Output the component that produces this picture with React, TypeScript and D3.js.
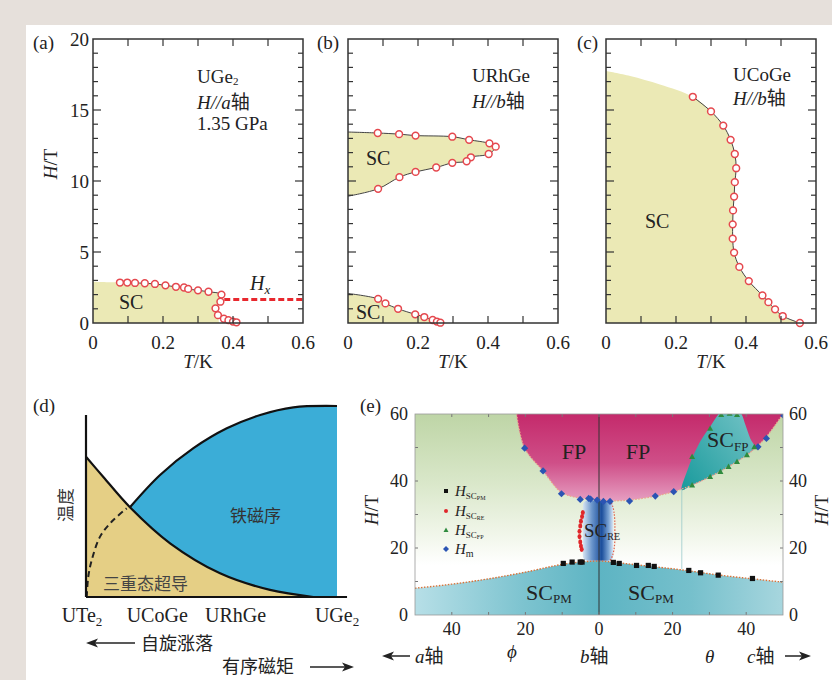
import React from 'react';
import * as d3 from 'd3';

const SERIF = '"Liberation Serif", "Times New Roman", serif';
const CJK = '"Noto Sans CJK SC", sans-serif';

// ---------- Panel (a) UGe2 ----------
const aT = [0.077, 0.098, 0.12, 0.148, 0.177, 0.207, 0.237, 0.26, 0.272, 0.3, 0.33, 0.367, 0.364, 0.35, 0.357, 0.374, 0.387, 0.4, 0.41];
const aH = [2.85, 2.85, 2.82, 2.8, 2.75, 2.65, 2.55, 2.5, 2.4, 2.3, 2.2, 2.0, 1.5, 1.03, 0.55, 0.3, 0.2, 0.1, 0.05];
const aFillStart = [[0, 2.9]];
const aFillEnd = [[0.36, 0]];
const aFillCount = 15;
const aHxT = [0.375, 0.6];
const aHxH = [1.66, 1.66];

// ---------- Panel (b) URhGe ----------
const bUpT = [0, 0.085, 0.146, 0.193, 0.298, 0.346, 0.404, 0.422, 0.402, 0.351, 0.339, 0.298, 0.252, 0.193, 0.147, 0.086, 0];
const bUpH = [13.45, 13.38, 13.3, 13.2, 13.12, 12.9, 12.65, 12.42, 11.9, 11.67, 11.39, 11.28, 10.95, 10.64, 10.27, 9.45, 8.93];
const bLoT = [0, 0.086, 0.107, 0.143, 0.192, 0.218, 0.242, 0.254, 0.264];
const bLoH = [2.08, 1.7, 1.38, 1.0, 0.61, 0.42, 0.21, 0.1, 0.02];

// ---------- Panel (c) UCoGe ----------
const cEdgeT = [0, 0.069, 0.154];
const cEdgeH = [17.75, 17.4, 16.8];
const cT = [0.248, 0.3, 0.335, 0.356, 0.368, 0.372, 0.368, 0.366, 0.363, 0.362, 0.362, 0.366, 0.381, 0.408, 0.447, 0.464, 0.483, 0.505, 0.554];
const cH = [15.93, 14.9, 13.9, 12.9, 11.9, 10.9, 9.92, 8.9, 7.93, 6.95, 5.94, 4.96, 3.95, 2.95, 1.94, 1.47, 0.96, 0.49, 0];

const tTicks = [0, 0.2, 0.4, 0.6];
const hTicks = [0, 5, 10, 15, 20];

// ---------- Panel (d) schematic ----------
const dTcX = [0, 0.07, 0.175, 0.335, 0.534, 0.733, 0.906];
const dTcY = [0.734, 0.627, 0.47, 0.281, 0.124, 0.037, 0];
const dFmX = [0.175, 0.295, 0.428, 0.561, 0.694, 0.826, 1.0];
const dFmY = [0.47, 0.639, 0.779, 0.883, 0.953, 0.993, 1.0];
const dDashX = [0.003, 0.009, 0.023, 0.056, 0.102, 0.162];
const dDashY = [0.0, 0.106, 0.194, 0.316, 0.394, 0.464];
const dCompounds = ['UTe', 'UCoGe', 'URhGe', 'UGe'];
const dCompoundPos = [-0.097, 0.162, 0.474, 0.912];
const dCompoundSub = ['2', '', '', '2'];

// ---------- Panel (e) URhGe angle diagram ----------
const eAngleTicks = [-40, -20, 0, 20, 40];
const eHTicks = [0, 20, 40, 60];
const ePmBA = [-50, -40, -30, -20, -10, -5, 0, 5, 10, 15, 20, 25, 30, 35, 40, 50];
const ePmBH = [8, 9.2, 10.8, 12.8, 15.1, 15.8, 16.1, 15.6, 15.0, 14.4, 13.8, 13.1, 12.3, 11.6, 11.0, 9.8];
const eFpBA = [-22.4, -20.2, -15.2, -10.2, -5.1, -2.5, 0, 3, 8.3, 15.3, 20.3, 25.3, 30.2, 35.2, 40.2, 43.2, 45.5, 50];
const eFpBH = [60, 49.8, 43, 36.6, 34.9, 34.6, 34.3, 34.1, 34.3, 35.5, 36.8, 38.8, 41.3, 44.3, 47.8, 50.6, 53.2, 60];
const eScFpOutA = [22.5, 25.3, 30.2, 33, 35.2, 37.5, 40.2, 42.2, 41.1, 39.8, 38.4, 36, 33, 30.2, 28, 25.7, 23.9];
const eScFpOutH = [37.3, 38.8, 41.3, 42.8, 44.3, 45.8, 47.8, 50.2, 52.7, 56.7, 60.5, 62, 60.5, 56.2, 52.7, 47.8, 42.8];
const eScReBox = [-4.4, 3.9, 16.2, 34.2];
const eHmA = [-20.2, -15.2, -10.2, -5.1, -2.8, -2.3, -0.5, 1.2, 3.0, 8.3, 15.3, 20.3, 43.2, 45.5, 50.2];
const eHmH = [49.8, 43, 36.2, 34.5, 34.8, 34.6, 34.3, 33.9, 33.9, 34.0, 35.5, 36.8, 50.2, 52.7, 59.5];
const eScPmA = [-9.7, -7.3, -5.1, -4.6, 3.9, 5.5, 10.2, 13.4, 15, 24.4, 27.6, 32.4, 41.7];
const eScPmH = [15.4, 15.8, 15.8, 15.8, 15.7, 15.4, 14.8, 14.8, 14.5, 13.3, 12.6, 11.9, 10.9];
const eScReA = [-4.4, -4.6, -4.9, -5.1, -5.3, -5.3, -5.1, -4.9, -4.7];
const eScReH = [30.6, 29.4, 28.0, 26.6, 25.0, 23.4, 21.8, 20.6, 19.6];
const eScFpA = [25.3, 30.2, 33.2, 35.5, 37.5, 25.3, 30.2, 33, 35.2, 37.5, 40.2, 42.2];
const eScFpH = [47.3, 55.7, 59.8, 60.2, 59.8, 38.8, 41.3, 42.8, 44.3, 45.8, 47.8, 50.2];

const zip = (xs: number[], ys: number[]) => xs.map((x, i) => [x, ys[i]] as [number, number]);

const RED = '#e5484e';
const SCY = '#ebe9b5';

type Sc = d3.ScaleLinear<number, number>;

function Frame({ xs, ys, yLabels }: { xs: Sc; ys: Sc; yLabels: boolean }) {
  const [x0, x1] = xs.range();
  const [y0, y1] = ys.range();
  const xt = d3.range(1, 6).map((i) => i * 0.1);
  const yt = d3.range(1, 20);
  return (
    <g>
      {xt.map((t, i) => (
        <g key={'x' + i}>
          <line x1={xs(t)} x2={xs(t)} y1={y0} y2={y0 - 7} stroke="#333" strokeWidth={1.2} />
          <line x1={xs(t)} x2={xs(t)} y1={y1} y2={y1 + 7} stroke="#333" strokeWidth={1.2} />
        </g>
      ))}
      {yt.map((h, i) => {
        const len = h % 5 === 0 ? 8 : 5;
        return (
          <g key={'y' + i}>
            <line x1={x0} x2={x0 + len} y1={ys(h)} y2={ys(h)} stroke="#333" strokeWidth={1.2} />
            <line x1={x1} x2={x1 - len} y1={ys(h)} y2={ys(h)} stroke="#333" strokeWidth={1.2} />
          </g>
        );
      })}
      <rect x={x0} y={y1} width={x1 - x0} height={y0 - y1} fill="none" stroke="#333" strokeWidth={1.5} />
      {tTicks.map((t, i) => (
        <text key={'tl' + i} x={xs(t)} y={349} textAnchor="middle" fontFamily={SERIF} fontSize={19} fill="#222">
          {t === 0 ? '0' : t.toFixed(1)}
        </text>
      ))}
      <text x={(x0 + x1) / 2} y={368} textAnchor="middle" fontFamily={SERIF} fontSize={19} fill="#222">
        <tspan fontStyle="italic">T</tspan>/K
      </text>
      {yLabels &&
        hTicks.map((h, i) => (
          <text key={'hl' + i} x={x0 - 4} y={ys(h) + 7} textAnchor="end" fontFamily={SERIF} fontSize={19} fill="#222">
            {h}
          </text>
        ))}
    </g>
  );
}

function Circles({ xs, ys, pts }: { xs: Sc; ys: Sc; pts: [number, number][] }) {
  return (
    <g>
      {pts.map((p, i) => (
        <circle key={i} cx={xs(p[0])} cy={ys(p[1])} r={3.4} fill="#fff" stroke={RED} strokeWidth={1.5} />
      ))}
    </g>
  );
}

function CJ({ children }: { children: React.ReactNode }) {
  return <tspan fontFamily={CJK} fontStyle="normal">{children}</tspan>;
}

export default function App() {
  const ys = d3.scaleLinear().domain([0, 20]).range([323, 39]);
  const xa = d3.scaleLinear().domain([0, 0.6]).range([93, 303]);
  const xb = d3.scaleLinear().domain([0, 0.6]).range([348, 558]);
  const xc = d3.scaleLinear().domain([0, 0.6]).range([606, 816]);

  const mk = (xs: Sc) =>
    d3.line<[number, number]>().x((d) => xs(d[0])).y((d) => ys(d[1])).curve(d3.curveCatmullRom.alpha(0.5));

  // (a)
  const aPts = zip(aT, aH);
  const la = mk(xa);
  const aFill = la([...(aFillStart as [number, number][]), ...aPts.slice(0, aFillCount), ...(aFillEnd as [number, number][])]) + `L${xa(0)},${ys(0)}Z`;
  const aLine = la(aPts) as string;

  // (b)
  const lb = mk(xb);
  const bUp = zip(bUpT, bUpH);
  const bLo = zip(bLoT, bLoH);
  const bUpPath = lb(bUp) as string;
  const bLoPath = lb(bLo) as string;

  // (c)
  const lc = mk(xc);
  const cPts = zip(cT, cH);
  const cFill = lc([...zip(cEdgeT, cEdgeH), ...cPts]) + `L${xc(0)},${ys(0)}Z`;
  const cLine = lc(cPts) as string;

  // (d)
  const dx = d3.scaleLinear().domain([0, 1]).range([86, 337]);
  const dy = d3.scaleLinear().domain([0, 1]).range([597, 406]);
  const ld = d3.line<[number, number]>().x((d) => dx(d[0])).y((d) => dy(d[1])).curve(d3.curveCatmullRom.alpha(0.5));
  const tc = zip(dTcX, dTcY);
  const fm = zip(dFmX, dFmY);
  const tcPath = ld(tc) as string;
  const fmPath = ld(fm) as string;
  const yellowPath = `M${dx(0)},${dy(0)}L` + (ld(tc) as string).slice(1) + 'Z';
  const tcRev = [...tc].reverse().filter((p) => p[0] >= dFmX[0]);
  const bluePath = fmPath + `L${dx(1)},${dy(0)}L${dx(dTcX[dTcX.length - 1])},${dy(0)}L` + (ld(tcRev) as string).slice(1) + 'Z';
  const dashPath = ld(zip(dDashX, dDashY)) as string;

  // (e)
  const ex = d3.scaleLinear().domain([-50, 50]).range([415, 783]);
  const ey = d3.scaleLinear().domain([0, 60]).range([615, 414]);
  const le = d3.line<[number, number]>().x((d) => ex(d[0])).y((d) => ey(d[1])).curve(d3.curveCatmullRom.alpha(0.5));
  const pmArea = d3
    .area<[number, number]>()
    .x((d) => ex(d[0]))
    .y0(ey(0))
    .y1((d) => ey(d[1]))
    .curve(d3.curveMonotoneX)(zip(ePmBA, ePmBH)) as string;
  const pmLine = d3.line<[number, number]>().x((d) => ex(d[0])).y((d) => ey(d[1])).curve(d3.curveMonotoneX)(zip(ePmBA, ePmBH)) as string;
  const fpLine = le(zip(eFpBA, eFpBH)) as string;
  const fpArea = fpLine + `L${ex(50)},${ey(65)}L${ex(-22.4)},${ey(65)}Z`;
  const scFpPath = (d3.line<[number, number]>().x((d) => ex(d[0])).y((d) => ey(d[1])).curve(d3.curveCatmullRomClosed.alpha(0.5))(zip(eScFpOutA, eScFpOutH))) as string;
  const [reA0, reA1, reH0, reH1] = eScReBox;

  const diamond = (cx: number, cy: number, s: number) => `M${cx},${cy - s}L${cx + s},${cy}L${cx},${cy + s}L${cx - s},${cy}Z`;
  const tri = (cx: number, cy: number, s: number) => `M${cx},${cy - s}L${cx + s},${cy + s * 0.8}L${cx - s},${cy + s * 0.8}Z`;

  const legendRows = [
    { y: 491, sub: 'PM', kind: 'sq', sc: true },
    { y: 511, sub: 'RE', kind: 'ci', sc: true },
    { y: 530, sub: 'FP', kind: 'tr', sc: true },
    { y: 549, sub: 'm', kind: 'di', sc: false },
  ];

  return (
    <svg width={832} height={680} style={{ position: 'absolute', left: 0, top: 0 }} xmlns="http://www.w3.org/2000/svg">
      <defs>
        <linearGradient id="bgE" gradientUnits="userSpaceOnUse" x1={0} y1={414} x2={0} y2={565}>
          <stop offset="0" stopColor="#bed5a6" />
          <stop offset="0.45" stopColor="#d9e7c9" />
          <stop offset="0.8" stopColor="#f1f6ea" />
          <stop offset="1" stopColor="#ffffff" />
        </linearGradient>
        <linearGradient id="fpE" gradientUnits="userSpaceOnUse" x1={0} y1={414} x2={0} y2={503}>
          <stop offset="0" stopColor="#c42a6b" />
          <stop offset="0.55" stopColor="#cf4f88" />
          <stop offset="1" stopColor="#e7a2c4" />
        </linearGradient>
        <linearGradient id="pmE" gradientUnits="userSpaceOnUse" x1={415} y1={0} x2={783} y2={0}>
          <stop offset="0" stopColor="#b7dfe7" />
          <stop offset="0.3" stopColor="#7cc3cf" />
          <stop offset="0.5" stopColor="#5db4c3" />
          <stop offset="0.75" stopColor="#76c0cc" />
          <stop offset="1" stopColor="#a7d6de" />
        </linearGradient>
        <linearGradient id="reE" gradientUnits="userSpaceOnUse" x1={ex(reA0)} y1={0} x2={ex(reA1)} y2={0}>
          <stop offset="0" stopColor="#d8e5f3" />
          <stop offset="0.3" stopColor="#6a95cb" />
          <stop offset="0.62" stopColor="#1b4e9c" />
          <stop offset="0.85" stopColor="#7da6d6" />
          <stop offset="1" stopColor="#dfe9f5" />
        </linearGradient>
        <linearGradient id="fpSc" gradientUnits="userSpaceOnUse" x1={680} y1={480} x2={760} y2={420}>
          <stop offset="0" stopColor="#1d9c9e" />
          <stop offset="1" stopColor="#74c3c6" />
        </linearGradient>
        <clipPath id="clipE">
          <rect x={415} y={414} width={368} height={201} />
        </clipPath>
        <clipPath id="clipA">
          <rect x={93} y={39} width={210} height={284} />
        </clipPath>
        <clipPath id="clipB">
          <rect x={348} y={39} width={210} height={284} />
        </clipPath>
        <clipPath id="clipC">
          <rect x={606} y={39} width={210} height={284} />
        </clipPath>
      </defs>

      <rect x={0} y={0} width={832} height={680} fill="#e6e0db" />
      <rect x={26} y={25} width={806} height={655} fill="#ffffff" />

      {/* ---------- (a) ---------- */}
      <g>
        <path d={aFill} fill={SCY} clipPath="url(#clipA)" />
        <line x1={xa(aHxT[0])} x2={xa(aHxT[1])} y1={ys(aHxH[0])} y2={ys(aHxH[1])} stroke="#e8282e" strokeWidth={3} strokeDasharray="6,3" />
        <path d={aLine} fill="none" stroke="#444" strokeWidth={1} />
        <Circles xs={xa} ys={ys} pts={aPts} />
        <Frame xs={xa} ys={ys} yLabels={true} />
        <text x={33} y={49} fontFamily={SERIF} fontSize={19} fill="#222">(a)</text>
        <text transform={`translate(57,164) rotate(-90)`} textAnchor="middle" fontFamily={SERIF} fontSize={19} fill="#222">
          <tspan fontStyle="italic">H</tspan>/T
        </text>
        <text x={197} y={83} fontFamily={SERIF} fontSize={19} fill="#222">
          UGe<tspan fontSize={11} dy={2}>2</tspan>
        </text>
        <text x={197} y={109} fontFamily={SERIF} fontSize={19} fill="#222" fontStyle="italic">
          H//a<CJ>轴</CJ>
        </text>
        <text x={197} y={130} fontFamily={SERIF} fontSize={19} fill="#222">1.35 GPa</text>
        <text x={119} y={309} fontFamily={SERIF} fontSize={20} fill="#222">SC</text>
        <text x={250} y={290} fontFamily={SERIF} fontSize={20} fill="#222" fontStyle="italic">
          H<tspan fontSize={13} dy={4}>x</tspan>
        </text>
      </g>

      {/* ---------- (b) ---------- */}
      <g>
        <path d={bUpPath + 'Z'} fill={SCY} clipPath="url(#clipB)" />
        <path d={bLoPath + `L${xb(0)},${ys(0)}Z`} fill={SCY} clipPath="url(#clipB)" />
        <path d={bUpPath} fill="none" stroke="#444" strokeWidth={1} />
        <path d={bLoPath} fill="none" stroke="#444" strokeWidth={1} />
        <Circles xs={xb} ys={ys} pts={bUp.filter((p) => p[0] > 0)} />
        <Circles xs={xb} ys={ys} pts={bLo.filter((p) => p[0] > 0)} />
        <Frame xs={xb} ys={ys} yLabels={false} />
        <text x={317} y={49} fontFamily={SERIF} fontSize={19} fill="#222">(b)</text>
        <text x={472} y={82} fontFamily={SERIF} fontSize={19} fill="#222">URhGe</text>
        <text x={472} y={108} fontFamily={SERIF} fontSize={19} fill="#222" fontStyle="italic">
          H//b<CJ>轴</CJ>
        </text>
        <text x={366} y={165} fontFamily={SERIF} fontSize={20} fill="#222">SC</text>
        <text x={356} y={319} fontFamily={SERIF} fontSize={20} fill="#222">SC</text>
      </g>

      {/* ---------- (c) ---------- */}
      <g>
        <path d={cFill} fill={SCY} clipPath="url(#clipC)" />
        <path d={cLine} fill="none" stroke="#444" strokeWidth={1} />
        <Circles xs={xc} ys={ys} pts={cPts} />
        <Frame xs={xc} ys={ys} yLabels={false} />
        <text x={577} y={49} fontFamily={SERIF} fontSize={19} fill="#222">(c)</text>
        <text x={733} y={81} fontFamily={SERIF} fontSize={19} fill="#222">UCoGe</text>
        <text x={733} y={105} fontFamily={SERIF} fontSize={19} fill="#222" fontStyle="italic">
          H//b<CJ>轴</CJ>
        </text>
        <text x={645} y={228} fontFamily={SERIF} fontSize={20} fill="#222">SC</text>
      </g>

      {/* ---------- (d) ---------- */}
      <g>
        <path d={yellowPath} fill="#e5cf85" />
        <path d={bluePath} fill="#3badd7" />
        <path d={tcPath} fill="none" stroke="#111" strokeWidth={2.2} />
        <path d={fmPath} fill="none" stroke="#111" strokeWidth={2.2} />
        <path d={dashPath} fill="none" stroke="#222" strokeWidth={2} strokeDasharray="6,4" />
        <line x1={dx(0)} x2={dx(0)} y1={dy(0.953)} y2={dy(0)} stroke="#111" strokeWidth={2.2} />
        <line x1={dx(0)} x2={dx(1.04)} y1={dy(0)} y2={dy(0)} stroke="#111" strokeWidth={2.2} />
        <text x={33} y={412} fontFamily={SERIF} fontSize={19} fill="#222">(d)</text>
        <text transform={`translate(72,505) rotate(-90)`} textAnchor="middle" fontFamily={CJK} fontSize={17} fill="#333">温度</text>
        <text x={230} y={522} fontFamily={CJK} fontSize={17} fill="#333">铁磁序</text>
        <text x={103} y={590} fontFamily={CJK} fontSize={17} fill="#444">三重态超导</text>
        {dCompounds.map((c, i) => (
          <text key={c + i} x={dx(dCompoundPos[i])} y={622} fontFamily={SERIF} fontSize={20} fill="#222">
            {c}
            {dCompoundSub[i] && (
              <tspan fontSize={13} dy={4}>
                {dCompoundSub[i]}
              </tspan>
            )}
          </text>
        ))}
        <line x1={92} x2={135} y1={643} y2={643} stroke="#222" strokeWidth={1.5} />
        <path d="M86,643 L98,638.5 L95,643 L98,647.5 Z" fill="#222" />
        <text x={141} y={650} fontFamily={CJK} fontSize={18} fill="#222">自旋涨落</text>
        <text x={222} y={673} fontFamily={CJK} fontSize={18} fill="#222">有序磁矩</text>
        <line x1={310} x2={347} y1={667} y2={667} stroke="#222" strokeWidth={1.5} />
        <path d="M354,667 L342,662.5 L345,667 L342,671.5 Z" fill="#222" />
      </g>

      {/* ---------- (e) ---------- */}
      <g>
        <g clipPath="url(#clipE)">
          <rect x={415} y={414} width={368} height={201} fill="url(#bgE)" />
          <path d={fpArea} fill="url(#fpE)" />
          <path d={scFpPath} fill="url(#fpSc)" />
          <path d={pmArea} fill="url(#pmE)" />
          <line x1={ex(22.5)} x2={ex(22.5)} y1={ey(37.3)} y2={ey(13.6)} stroke="#8fc5c6" strokeWidth={1} opacity={0.7} />
          <rect x={ex(reA0)} y={ey(reH1)} width={ex(reA1) - ex(reA0)} height={ey(reH0) - ey(reH1)} rx={5} fill="url(#reE)" />
          <path d={`M${ex(reA1 - 1)},${ey(reH1)} Q${ex(reA1 + 0.6)},${ey(reH1 - 2)} ${ex(reA1 + 0.4)},${ey(25)} Q${ex(reA1 + 0.6)},${ey(reH0 + 2)} ${ex(reA1 - 1)},${ey(reH0)}`} fill="none" stroke="#e0604a" strokeWidth={1.2} strokeDasharray="1.5,1.5" />
          <path d={fpLine} fill="none" stroke="#eba58c" strokeWidth={1.3} strokeDasharray="1.5,1.5" />
          <path d={pmLine} fill="none" stroke="#d9733a" strokeWidth={1.4} strokeDasharray="1.5,1.5" />
          <line x1={ex(0)} x2={ex(0)} y1={ey(60)} y2={ey(0)} stroke="#333" strokeWidth={1} />
          {eHmA.map((a, i) => (
            <path key={'hm' + i} d={diamond(ex(a), ey(eHmH[i]), 3.6)} fill="#2b54b3" />
          ))}
          {eScPmA.map((a, i) => (
            <rect key={'pm' + i} x={ex(a) - 2.6} y={ey(eScPmH[i]) - 2.6} width={5.2} height={5.2} fill="#111" />
          ))}
          {eScReA.map((a, i) => (
            <ellipse key={'re' + i} cx={ex(a)} cy={ey(eScReH[i])} rx={2} ry={2.6} fill="#e0262a" />
          ))}
          {eScFpA.map((a, i) => (
            <path key={'fp' + i} d={tri(ex(a), ey(eScFpH[i]), 3)} fill="#2f8b3e" />
          ))}
        </g>
        {/* frame ticks */}
        {d3.range(-40, 50, 10).map((a, i) => (
          <g key={'et' + i}>
            <line x1={ex(a)} x2={ex(a)} y1={ey(60)} y2={ey(60) + 3} stroke="#777" strokeWidth={1} />
            <line x1={ex(a)} x2={ex(a)} y1={ey(0)} y2={ey(0) - 3} stroke="#777" strokeWidth={1} />
          </g>
        ))}
        {d3.range(10, 60, 10).map((h, i) => (
          <g key={'eh' + i}>
            <line x1={ex(-50)} x2={ex(-50) + 3} y1={ey(h)} y2={ey(h)} stroke="#777" strokeWidth={1} />
            <line x1={ex(50)} x2={ex(50) - 3} y1={ey(h)} y2={ey(h)} stroke="#777" strokeWidth={1} />
          </g>
        ))}
        <rect x={415} y={414} width={368} height={201} fill="none" stroke="#999" strokeWidth={0.8} />

        <text x={574} y={459} textAnchor="middle" fontFamily={SERIF} fontSize={22} fill="#222">FP</text>
        <text x={638} y={459} textAnchor="middle" fontFamily={SERIF} fontSize={22} fill="#222">FP</text>
        <text x={707} y={447} fontFamily={SERIF} fontSize={22} fill="#222">
          SC<tspan fontSize={13} dy={4}>FP</tspan>
        </text>
        <text x={584} y={537} fontFamily={SERIF} fontSize={19} fill="#222">
          SC<tspan fontSize={10} dy={3}>RE</tspan>
        </text>
        <text x={526} y={600} fontFamily={SERIF} fontSize={22} fill="#222">
          SC<tspan fontSize={13} dy={3}>PM</tspan>
        </text>
        <text x={628} y={600} fontFamily={SERIF} fontSize={22} fill="#222">
          SC<tspan fontSize={13} dy={3}>PM</tspan>
        </text>

        {legendRows.map((r, i) => (
          <g key={'lg' + i}>
            {r.kind === 'sq' && <rect x={444} y={r.y - 2} width={4} height={4} fill="#111" />}
            {r.kind === 'ci' && <circle cx={446} cy={r.y} r={2} fill="#e0262a" />}
            {r.kind === 'tr' && <path d={tri(446, r.y, 2.5)} fill="#2f8b3e" />}
            {r.kind === 'di' && <path d={diamond(446, r.y, 3)} fill="#2b54b3" />}
            <text x={455} y={r.y + 5} fontFamily={SERIF} fontSize={15} fill="#222">
              <tspan fontStyle="italic">H</tspan>
              {r.sc ? (
                <>
                  <tspan fontSize={9} dy={3}>SC</tspan>
                  <tspan fontSize={6} dy={1}>{r.sub}</tspan>
                </>
              ) : (
                <tspan fontSize={10} dy={3}>{r.sub}</tspan>
              )}
            </text>
          </g>
        ))}

        <text x={360} y={412} fontFamily={SERIF} fontSize={19} fill="#222">(e)</text>
        {eHTicks.map((h, i) => (
          <g key={'ehl' + i}>
            <text x={408} y={ey(h) + 6} textAnchor="end" fontFamily={SERIF} fontSize={18} fill="#222">{h}</text>
            <text x={789} y={ey(h) + 6} textAnchor="start" fontFamily={SERIF} fontSize={18} fill="#222">{h}</text>
          </g>
        ))}
        {eAngleTicks.map((a, i) => (
          <text key={'eal' + i} x={ex(a)} y={635} textAnchor="middle" fontFamily={SERIF} fontSize={18} fill="#222">
            {Math.abs(a)}
          </text>
        ))}
        <text transform={`translate(378,510) rotate(-90)`} textAnchor="middle" fontFamily={SERIF} fontSize={19} fill="#222">
          <tspan fontStyle="italic">H</tspan>/T
        </text>
        <text transform={`translate(828,510) rotate(-90)`} textAnchor="middle" fontFamily={SERIF} fontSize={19} fill="#222">
          <tspan fontStyle="italic">H</tspan>/T
        </text>
        <line x1={388} x2={410} y1={656} y2={656} stroke="#222" strokeWidth={1.5} />
        <path d="M382,656 L394,651.5 L391,656 L394,660.5 Z" fill="#222" />
        <text x={415} y={663} fontFamily={SERIF} fontSize={19} fill="#222" fontStyle="italic">
          a<CJ>轴</CJ>
        </text>
        <text x={507} y={658} fontFamily={SERIF} fontSize={19} fill="#222" fontStyle="italic">ϕ</text>
        <text x={580} y={663} fontFamily={SERIF} fontSize={19} fill="#222" fontStyle="italic">
          b<CJ>轴</CJ>
        </text>
        <text x={705} y={663} fontFamily={SERIF} fontSize={19} fill="#222" fontStyle="italic">θ</text>
        <text x={747} y={663} fontFamily={SERIF} fontSize={19} fill="#222" fontStyle="italic">
          c<CJ>轴</CJ>
        </text>
        <line x1={785} x2={805} y1={656} y2={656} stroke="#222" strokeWidth={1.5} />
        <path d="M811,656 L799,651.5 L802,656 L799,660.5 Z" fill="#222" />
      </g>
    </svg>
  );
}
